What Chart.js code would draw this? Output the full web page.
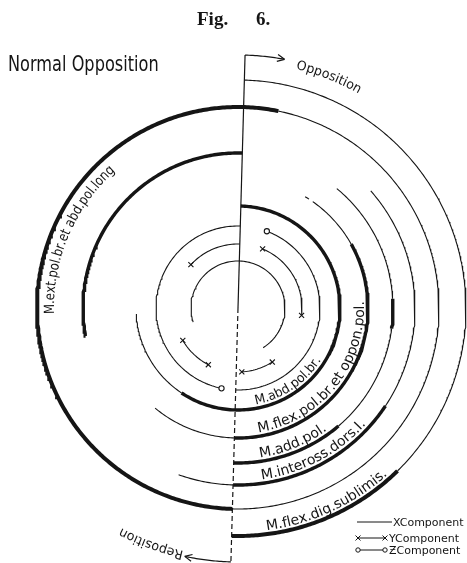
<!DOCTYPE html>
<html>
<head>
<meta charset="utf-8">
<script src="https://cdn.jsdelivr.net/npm/chart.js@4.4.1/dist/chart.umd.min.js"></script>
<style>
  html, body { margin: 0; padding: 0; background: #fff; }
  canvas { display: block; }
</style>
</head>
<body>
<canvas id="fig6" width="467" height="563"></canvas>
<script>
// rings from the centre outwards
const ringRadius = [47, 64, 82, 102, 130, 155, 177, 201, 228];

// [ring, start, end] in degrees, clockwise from the zero line (0 = top, 180 = bottom)
const xThin = [[0, 251, 506], [3, 212, 265], [4, 29.5, 31.5], [4, 33.5, 59], [4, 180, 218],
               [5, 38, 85], [5, 96, 138], [6, 47, 122], [6, 180, 198], [7, 10, 180], [8, 0, 134]];
const xThick = [[3, 0, 212], [4, 59, 180], [5, 85, 96], [5, 138, 180], [5, 258, 360],
                [6, 122, 180], [7, 180, 370], [8, 134, 180]];
const yArcs = [[1, 21, 95], [1, 146, 175], [1, 206, 238], [1, 311, 360]];
const zArcs = [[2, 19, 180], [2, 190, 360]];

const muscleLabels = ['M.abd.pol.br.', 'M.flex.pol.br.et oppon.pol.', 'M.add.pol.',
                      'M.inteross.dors.I.', 'M.flex.dig.sublimis.', 'M.ext.pol.br.et abd.pol.long'];
const labelRing = [3, 4, 5, 6, 8, 7];
const labelStart = [168, 169, 170, 170.5, 171, 266.5];
const phaseLabels = ['Opposition', 'Reposition'];
const legendLabels = ['XComponent', 'YComponent', '\u01B5Component'];

const ROT = 1.6;       // the zero line leans a little
const INK = '#151515';

function polar(r, deg) {
    const a = (deg + ROT) * Math.PI / 180;
    return { x: r * Math.sin(a), y: r * Math.cos(a) };
}

function arcData(r, a0, a1) {
    const n = Math.max(2, Math.ceil(Math.abs(a1 - a0) * Math.PI / 180 * r / 2));
    const pts = [];
    for (let i = 0; i <= n; i++) pts.push(polar(r, a0 + (a1 - a0) * i / n));
    return pts;
}

const datasets = [];

function addArcs(list, width, marker) {
    list.forEach(([ring, a0, a1]) => {
        const data = arcData(ringRadius[ring], a0, a1);
        const last = data.length - 1;
        const marked = i => marker && ((i === 0 && a0 % 180 !== 0) || (i === last && a1 % 180 !== 0));
        datasets.push({
            data: data,
            showLine: true,
            borderColor: INK,
            borderWidth: typeof width === 'function' ? width(ring) : width,
            borderCapStyle: 'butt',
            tension: 0,
            pointStyle: marker || 'circle',
            pointRadius: c => marked(c.dataIndex) ? (marker === 'circle' ? 2.6 : 3.6) : 0,
            pointHoverRadius: 0,
            pointBackgroundColor: '#fff',
            pointBorderColor: INK,
            pointBorderWidth: 1.1
        });
    });
}

addArcs(xThin, 1.1);
addArcs(yArcs, 1.1, 'crossRot');
addArcs(zArcs, 1.1, 'circle');
addArcs(xThick, ring => ring >= 7 ? 4 : 3.4);

// zero line: solid for opposition side, dashed below the centre
datasets.push({ data: [polar(253, 0), { x: 0, y: 0 }], showLine: true, borderColor: INK, borderWidth: 1.2, pointRadius: 0 });
datasets.push({ data: [{ x: 0, y: 0 }, polar(254, 180)], showLine: true, borderColor: INK, borderWidth: 1.2, borderDash: [5, 3], pointRadius: 0 });
// phase arrows
const phaseArrow = [[253, 0, 9], [254, 180, 190.5]];
phaseArrow.forEach(([r, a0, a1]) => {
    datasets.push({ data: arcData(r, a0, a1), showLine: true, borderColor: INK, borderWidth: 1.2, pointRadius: 0 });
});

function arcText(ctx, text, cx, cy, r, startDeg, ccw, font, sx) {
    ctx.font = font;
    ctx.textAlign = 'center';
    ctx.textBaseline = 'alphabetic';
    let a = (startDeg + ROT) * Math.PI / 180;
    for (const ch of text) {
        const w = ctx.measureText(ch).width * sx;
        const da = w / r;
        const mid = ccw ? a - da / 2 : a + da / 2;
        ctx.save();
        ctx.translate(cx + r * Math.sin(mid), cy - r * Math.cos(mid));
        ctx.rotate(ccw ? mid - Math.PI : mid);
        ctx.scale(sx, 1);
        ctx.fillText(ch, 0, 0);
        ctx.restore();
        a = ccw ? a - da : a + da;
    }
}

const annotate = {
    id: 'annotate',
    afterDatasetsDraw(chart) {
        const { ctx, scales: { x, y } } = chart;
        const cx = x.getPixelForValue(0), cy = y.getPixelForValue(0);
        const k = x.getPixelForValue(1) - cx;
        ctx.save();
        ctx.fillStyle = INK;
        ctx.strokeStyle = INK;
        ctx.lineWidth = 1.2;

        // arrow heads at the end of each phase arrow
        phaseArrow.forEach(([r, a0, a1]) => {
            const t = (a1 + ROT) * Math.PI / 180;
            const px = cx + r * k * Math.sin(t), py = cy - r * k * Math.cos(t);
            const dx = Math.cos(t), dy = Math.sin(t);
            ctx.beginPath();
            [0.45, -0.45].forEach(s => {
                const bx = -dx * Math.cos(s) + dy * Math.sin(s);
                const by = -dy * Math.cos(s) - dx * Math.sin(s);
                ctx.moveTo(px + bx * 8, py + by * 8);
                ctx.lineTo(px, py);
            });
            ctx.stroke();
        });

        // titles
        ctx.textAlign = 'left';
        ctx.textBaseline = 'alphabetic';
        ctx.font = 'bold 19px "Liberation Serif"';
        ctx.fillText('Fig.', 197, 25);
        ctx.fillText('6.', 256, 25);
        ctx.save();
        ctx.translate(8, 71);
        ctx.scale(0.77, 1);
        ctx.font = '21px "DejaVu Sans"';
        ctx.fillText('Normal Opposition', 0, 0);
        ctx.restore();

        // phase names
        arcText(ctx, phaseLabels[0], cx, cy, 246 * k, 12, false, '13px "DejaVu Sans"', 0.97);
        arcText(ctx, phaseLabels[1], cx, cy, 249 * k, 191, false, '13px "DejaVu Sans"', 0.97);

        // muscle names along their rings
        const size = [13, 14, 14, 14, 14, 14];
        const sx = [0.95, 1, 1, 1, 1, 0.83];
        muscleLabels.forEach((txt, i) => {
            const ring = ringRadius[labelRing[i]];
            const cw = labelStart[i] > 180;
            const r = cw ? ring - 17 : ring - 4;
            arcText(ctx, txt, cx, cy, r * k, labelStart[i], !cw, size[i] + 'px "DejaVu Sans"', sx[i]);
        });

        // legend
        ctx.font = '11px "DejaVu Sans"';
        ctx.textAlign = 'left';
        ctx.lineWidth = 1;
        const rows = [[357, 392, 522], [358, 385, 538], [358, 385, 550]];
        rows.forEach(([x0, x1, yy], i) => {
            ctx.beginPath();
            ctx.moveTo(x0, yy);
            ctx.lineTo(x1, yy);
            ctx.stroke();
            if (i === 1) {
                [x0, x1].forEach(mx => {
                    ctx.beginPath();
                    ctx.moveTo(mx - 2.5, yy - 2.5); ctx.lineTo(mx + 2.5, yy + 2.5);
                    ctx.moveTo(mx - 2.5, yy + 2.5); ctx.lineTo(mx + 2.5, yy - 2.5);
                    ctx.stroke();
                });
            }
            if (i === 2) {
                [x0, x1].forEach(mx => {
                    ctx.beginPath();
                    ctx.arc(mx, yy, 2.2, 0, Math.PI * 2);
                    ctx.fillStyle = '#fff';
                    ctx.fill();
                    ctx.stroke();
                    ctx.fillStyle = INK;
                });
            }
            ctx.fillText(legendLabels[i], x1 + (i === 0 ? 1 : 4), yy + 4);
        });
        ctx.restore();
    }
};

new Chart(document.getElementById('fig6'), {
    type: 'scatter',
    data: { datasets: datasets },
    options: {
        responsive: false,
        animation: false,
        events: [],
        layout: { padding: 0, autoPadding: false },
        scales: {
            x: { type: 'linear', display: false, min: -238, max: 229 },
            y: { type: 'linear', display: false, min: -255, max: 308 }
        },
        plugins: { legend: { display: false }, tooltip: { enabled: false } }
    },
    plugins: [annotate]
});
</script>
</body>
</html>
